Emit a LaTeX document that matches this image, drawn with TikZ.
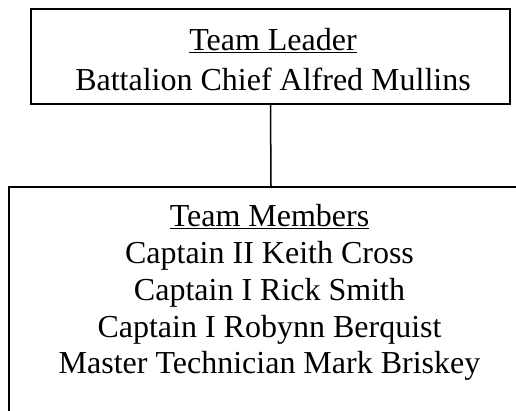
\documentclass[tikz,border=0pt]{standalone}
\usepackage{fontspec}
\setmainfont{Liberation Serif}
\begin{document}
\begin{tikzpicture}[x=1pt,y=-1pt,
  box/.style={draw, line width=1.5pt, inner sep=0pt},
  conn/.style={draw, line width=1.5pt},
  txt/.style={font=\fontsize{32}{37}\selectfont, anchor=base, inner sep=0pt}]
\useasboundingbox (0,0) rectangle (516,410);
\clip (0,0) rectangle (516,410);
\node[box, minimum width=479pt, minimum height=95pt] (leader) at (270.5,56.5) {};
\node[box, minimum width=524pt, minimum height=260pt, anchor=north] (members) at (271,186) {};
\draw[conn] (leader.south) -- (members.north);
\node[txt] (tlhead) at (273,50) {\underline{Team Leader}};
\node[txt] (tlname) at (273,90) {Battalion Chief Alfred Mullins};
\node[txt] (tmhead) at (269.5,226) {\underline{Team Members}};
\node[txt] (tm1) at (269.5,263) {Captain II Keith Cross};
\node[txt] (tm2) at (269.5,300) {Captain I Rick Smith};
\node[txt] (tm3) at (269.5,337) {Captain I Robynn Berquist};
\node[txt] (tm4) at (269.5,373) {Master Technician Mark Briskey};
\end{tikzpicture}
\end{document}
